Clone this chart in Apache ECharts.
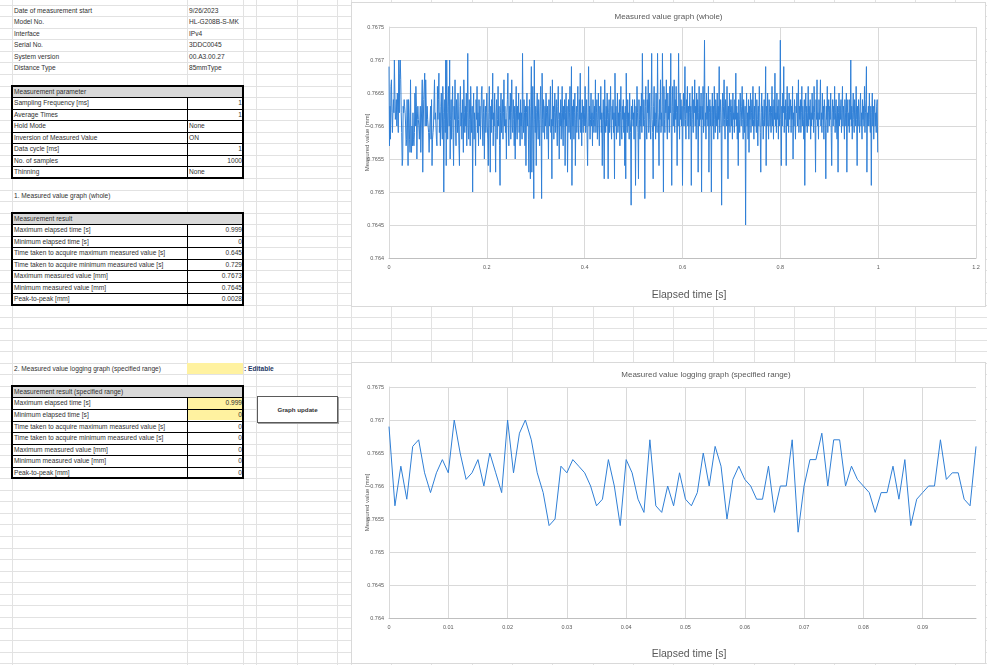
<!DOCTYPE html>
<html>
<head>
<meta charset="utf-8">
<title>Measured value graph</title>
<script src="https://cdn.jsdelivr.net/npm/echarts@6.0.0/dist/echarts.min.js"></script>
<style>
  html, body { margin: 0; padding: 0; background: #fff; }
  #page { position: relative; width: 987px; height: 665px; overflow: hidden; font-family: 'Liberation Sans', Arial, sans-serif; }
  #sheet { position: absolute; left: 0; top: 0; width: 987px; height: 665px; }
  .chart { position: absolute; background: #fff; border: 1px solid #d9d9d9; }
  #chartWhole { left: 351px; top: 2px; width: 633px; height: 303px; }
  #chartRange { left: 351px; top: 362px; width: 633px; height: 300px; }
</style>
</head>
<body>
<div id="page">
  <div id="sheet"></div>
  <div id="chartWhole" class="chart"></div>
  <div id="chartRange" class="chart"></div>
</div>
<script>
// ---- sheet content ----
const infoRows = [
  ['Date of measurement start', '9/26/2023'],
  ['Model No.', 'HL-G208B-S-MK'],
  ['Interface', 'IPv4'],
  ['Serial No.', '3DDC0045'],
  ['System version', '00.A3.00.27'],
  ['Distance Type', '85mmType']
];
const paramRows = [
  ['Sampling Frequency [ms]', '1'],
  ['Average Times', '1'],
  ['Hold Mode', 'None'],
  ['Inversion of Measured Value', 'ON'],
  ['Data cycle [ms]', '1'],
  ['No. of samples', '1000'],
  ['Thinning', 'None']
];
const resultRows = [
  ['Maximum elapsed time [s]', '0.999'],
  ['Minimum elapsed time [s]', '0'],
  ['Time taken to acquire maximum measured value [s]', '0.645'],
  ['Time taken to acquire minimum measured value [s]', '0.729'],
  ['Maximum measured value [mm]', '0.7673'],
  ['Minimum measured value [mm]', '0.7645'],
  ['Peak-to-peak [mm]', '0.0028']
];
const rangeRows = [
  ['Maximum elapsed time [s]', '0.999'],
  ['Minimum elapsed time [s]', '0'],
  ['Time taken to acquire maximum measured value [s]', '0'],
  ['Time taken to acquire minimum measured value [s]', '0'],
  ['Maximum measured value [mm]', '0'],
  ['Minimum measured value [mm]', '0'],
  ['Peak-to-peak [mm]', '0']
];

// ---- measurement data ----
// readings in 0.0001 mm steps above 0.7600 mm, one per 1 ms sample (1000 samples)
const readingCodes = [
  69,57,63,58,66,67,62,59,62,64,62,70,65,61,62,64,60,65,62,59,
  70,62,68,70,67,62,59,54,55,63,62,64,63,62,60,57,58,64,60,54,
  64,62,58,56,67,57,56,60,57,62,58,57,59,65,60,66,63,55,61,63,
  61,60,58,58,63,56,60,60,67,53,60,64,64,68,60,67,67,60,63,61,
  60,59,56,59,59,63,58,64,54,58,59,60,60,67,61,62,62,58,57,66,
  61,64,68,59,62,57,63,65,60,58,66,62,50,61,64,59,70,54,70,62,
  58,63,66,60,70,55,61,64,58,62,66,59,54,63,61,67,60,57,64,62,
  59,65,61,57,54,63,66,60,62,58,64,61,56,67,62,59,63,60,65,57,
  62,71,60,58,64,61,57,66,62,59,63,50,61,65,58,62,60,54,64,61,
  66,59,62,57,64,60,63,58,61,65,66,60,57,62,64,55,61,63,59,62,
  65,60,58,54,62,66,61,53,63,59,64,61,68,57,62,60,65,59,53,62,
  64,58,61,66,60,63,57,51,62,65,59,61,64,58,62,67,60,63,59,61,
  55,62,64,68,60,57,63,61,65,58,62,67,60,59,64,61,57,63,55,62,
  66,60,58,63,61,65,59,62,57,64,60,62,58,71,61,59,64,62,57,63,
  54,62,65,60,63,58,53,64,61,52,63,69,53,60,66,58,49,70,61,59,
  63,54,62,65,60,58,64,61,57,63,66,60,49,68,61,59,64,62,58,63,
  60,65,62,58,63,61,55,64,60,62,66,59,61,52,67,60,63,58,62,65,
  59,62,64,60,57,63,66,61,55,62,60,64,58,62,66,60,57,63,61,64,
  54,62,65,60,63,53,61,64,59,62,66,58,61,69,51,63,60,64,58,62,
  65,54,61,63,59,62,66,60,58,64,61,68,59,62,57,64,61,59,63,60,
  62,66,59,61,64,58,54,62,69,60,63,58,61,65,60,62,57,64,61,59,
  63,60,67,59,62,64,58,61,65,60,57,63,61,66,59,62,54,61,64,60,
  52,67,61,59,63,60,65,61,52,62,64,59,62,66,60,58,63,61,64,59,
  62,52,68,60,63,58,61,65,59,62,60,64,57,62,66,60,58,63,61,64,
  59,62,54,63,52,68,61,59,64,60,62,58,65,61,59,48,63,61,64,60,
  62,58,64,61,51,63,60,66,62,59,52,64,61,58,63,60,65,59,71,62,
  60,64,61,49,63,66,60,58,64,62,67,59,61,65,60,58,63,71,61,59,
  52,63,66,60,62,58,65,61,59,71,62,60,54,64,61,67,59,62,60,71,
  63,50,66,61,59,64,62,67,60,58,65,61,63,59,66,62,71,60,51,63,
  66,60,62,67,59,64,61,66,62,54,63,60,71,62,58,65,61,64,60,63,
  51,62,65,60,63,69,61,58,64,62,66,60,63,58,62,65,60,63,51,62,
  66,61,59,64,62,67,60,63,58,65,61,64,53,62,66,60,63,61,65,50,
  63,61,66,59,64,73,60,62,58,65,61,63,60,66,53,62,64,60,63,50,
  62,65,60,63,58,66,61,59,64,62,60,65,58,63,61,69,59,62,64,60,
  48,62,65,60,63,67,61,58,64,62,60,66,61,52,63,60,65,59,62,64,
  60,63,58,65,61,62,59,64,61,68,60,63,58,62,54,64,61,59,65,62,
  60,63,66,61,58,64,62,59,63,45,61,65,60,62,58,64,56,63,61,65,
  59,62,64,60,66,61,58,63,60,65,62,59,64,61,57,63,60,66,62,59,
  53,62,65,60,63,58,61,64,60,62,69,54,63,60,65,61,58,64,62,60,
  63,59,62,66,60,63,58,64,61,68,60,62,59,65,61,63,58,64,60,62,
  73,61,54,63,60,65,62,69,59,63,61,64,54,62,66,60,63,59,65,61,
  62,64,59,63,61,66,55,62,60,64,61,58,63,62,65,60,62,67,59,63,
  61,64,59,62,66,60,63,61,58,64,51,62,65,60,63,59,62,66,60,63,
  61,64,58,62,60,65,61,63,59,66,62,60,53,64,61,67,60,62,58,64,
  61,63,67,60,62,59,65,61,63,58,64,62,60,52,63,61,66,59,62,64,
  60,63,61,65,59,54,62,64,60,63,61,66,59,62,64,60,58,63,53,62,
  65,60,63,61,64,59,62,66,60,63,61,58,64,62,60,65,53,62,64,60,
  62,59,64,61,70,60,63,58,62,65,61,59,64,62,60,66,61,54,63,60,
  64,61,59,63,65,60,62,58,64,61,63,60,66,59,62,64,69,53,62,60,
  63,60,65,61,59,63,51,62,65,60,63,58,62,64,60,62,59,63,64,56
];
const dataCycleS = 0.001;       // 1 ms per sample
const rangeSampleCount = 100;   // specified range shown in graph 2: 0 .. 0.099 s

const wholeXTicks = { min: 0, max: 1.2, interval: 0.2 };
const rangeXTicks = { min: 0, max: 0.099, interval: 0.01 };
const yTicks = { min: 0.764, max: 0.7675, interval: 0.0005 };

const measuredPoints = readingCodes.map((c, i) => [+(i * dataCycleS).toFixed(3), +(0.76 + c / 10000).toFixed(4)]);
const rangePoints = measuredPoints.slice(0, rangeSampleCount);

// ---- draw the worksheet ----
const sheet = document.getElementById('sheet');
const ROW_TOP = 4.7, ROW_H = 11.55;
const colX = [12, 187, 243, 256, 297, 337, 350.7];
for (let x = 391; x < 990; x += 40.3) colX.push(x);
const rowY = r => ROW_TOP + (r - 1) * ROW_H;
const FONT = "font-family:'Liberation Sans',Arial,sans-serif;font-size:6.6px;color:#303030;";

function box(x, y, w, h, style) {
  const d = document.createElement('div');
  d.style.cssText = `position:absolute;left:${x}px;top:${y}px;width:${w}px;height:${h}px;box-sizing:border-box;${style || ''}`;
  sheet.appendChild(d);
  return d;
}
function cell(r, c, text, align, extra) {
  const x0 = colX[c], x1 = colX[c + 1];
  const d = box(x0 + 2, rowY(r), (align === 'right' ? x1 - x0 - 3 : 300), ROW_H,
    FONT + `line-height:${ROW_H}px;text-align:${align};white-space:nowrap;${extra || ''}`);
  d.textContent = text;
}

// gridlines
colX.forEach(x => box(x, 0, 1, 665, 'background:#e2e2e2'));
for (let y = ROW_TOP; y < 665; y += ROW_H) box(0, y, 987, 1, 'background:#e2e2e2');

infoRows.forEach((row, i) => { cell(1 + i, 0, row[0], 'left'); cell(1 + i, 1, row[1], 'left'); });

function table(r0, title, rows, yellowRows) {
  const n = rows.length;
  box(12, rowY(r0), 231, ROW_H, 'background:#d9d9d9');
  box(12, rowY(r0 + 1), 231, n * ROW_H, 'background:#fff');
  (yellowRows || []).forEach(k => box(187, rowY(r0 + 1 + k), 56, ROW_H, 'background:#fff2a0'));
  for (let k = 1; k <= n; k++) box(12, rowY(r0 + k), 231, 1, 'background:#000');
  box(187, rowY(r0 + 1), 1, n * ROW_H, 'background:#000');
  box(11, rowY(r0) - 0.5, 233, (n + 1) * ROW_H + 1.5, 'border:2px solid #000');
  cell(r0, 0, title, 'left');
  rows.forEach((row, k) => {
    cell(r0 + 1 + k, 0, row[0], 'left');
    const isNum = !isNaN(parseFloat(row[1]));
    cell(r0 + 1 + k, 1, row[1], isNum ? 'right' : 'left');
  });
}
table(8, 'Measurement parameter', paramRows);
cell(17, 0, '1. Measured value graph (whole)', 'left');
table(19, 'Measurement result', resultRows);

box(187, rowY(32), 56, ROW_H, 'background:#fff2a0');
cell(32, 0, '2. Measured value logging graph (specified range)', 'left');
cell(32, 2, ': Editable', 'left', 'font-weight:bold;color:#1f3864;left:244px;');
table(34, 'Measurement result (specified range)', rangeRows, [0, 1]);

const btn = box(257, 396, 81, 27, 'background:#fff;border:1px solid #5a5a5a;box-shadow:1px 1px 0 #a0a0a0;' + FONT +
  'font-weight:bold;font-size:6.2px;line-height:25px;text-align:center;');
btn.textContent = 'Graph update';

// ---- charts ----
const TXT = '#595959';
const FAM = 'Liberation Sans';

function lineOption(title, pos, points, xTicks, hideMax) {
  return {
    animation: false,
    title: {
      text: title,
      left: pos.left, top: pos.top, textAlign: pos.align,
      textStyle: { fontSize: 8, fontWeight: 'normal', color: TXT, fontFamily: FAM }
    },
    grid: { left: 37, right: 9, top: 24, bottom: pos.bottom, containLabel: false, outerBoundsMode: 'none' },
    xAxis: {
      type: 'value', min: xTicks.min, max: xTicks.max, interval: xTicks.interval,
      name: 'Elapsed time [s]', nameLocation: 'middle', nameGap: pos.nameGap, nameMoveOverlap: false,
      nameTextStyle: { fontSize: 10.5, color: TXT, fontFamily: FAM, padding: [0, 0, 0, 13] },
      axisLine: { show: true, lineStyle: { color: '#bfbfbf', width: 1 } },
      axisTick: { show: false },
      axisLabel: { fontSize: 5.5, color: TXT, fontFamily: FAM, margin: 6, showMaxLabel: !hideMax },
      splitLine: { show: true, showMaxLine: !hideMax, lineStyle: { color: '#d9d9d9', width: 1 } }
    },
    yAxis: {
      type: 'value', min: yTicks.min, max: yTicks.max, interval: yTicks.interval,
      name: 'Measured value [mm]', nameLocation: 'middle', nameGap: 19, nameMoveOverlap: false,
      nameTextStyle: { fontSize: 6, color: TXT, fontFamily: FAM },
      axisLine: { show: true, lineStyle: { color: '#d9d9d9', width: 1 } },
      axisTick: { show: false },
      axisLabel: { fontSize: 5.5, color: TXT, fontFamily: FAM, margin: 5 },
      splitLine: { show: true, lineStyle: { color: '#d9d9d9', width: 1 } }
    },
    series: [{
      type: 'line',
      data: points,
      showSymbol: false,
      symbol: 'none',
      lineStyle: { color: '#2f7fd6', width: 1 },
      silent: true
    }]
  };
}

const wholeChart = echarts.init(document.getElementById('chartWhole'));
wholeChart.setOption(lineOption('Measured value graph (whole)',
  { left: 'center', top: 5, bottom: 48, nameGap: 32 }, measuredPoints, wholeXTicks, false));

const rangeChart = echarts.init(document.getElementById('chartRange'));
rangeChart.setOption(lineOption('Measured value logging graph (specified range)',
  { left: 349, top: 3, align: 'center', bottom: 45, nameGap: 31 }, rangePoints, rangeXTicks, true));
</script>
</body>
</html>
